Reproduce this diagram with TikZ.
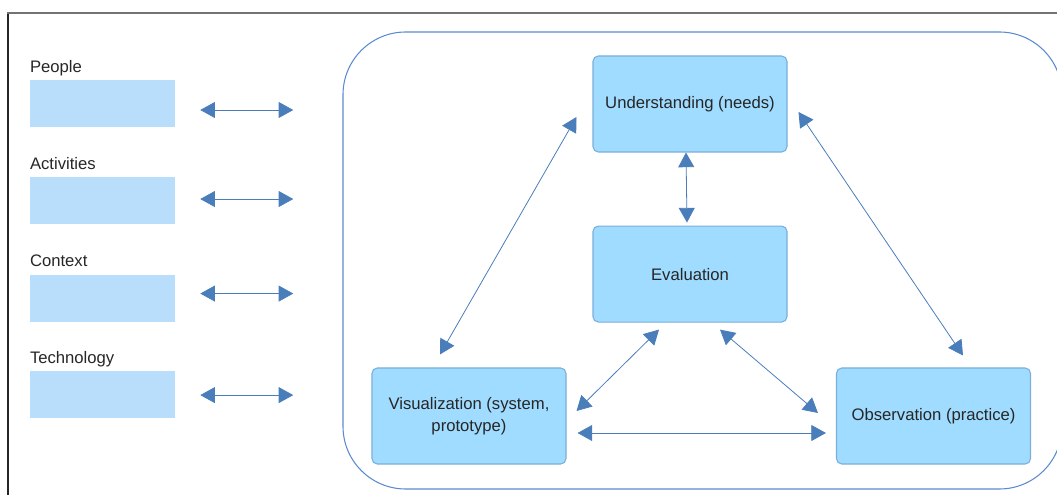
\documentclass[tikz,border=0pt]{standalone}
\usepackage{fontspec}
\setmainfont{Liberation Sans}
\usepackage{tikz}
\usetikzlibrary{positioning,arrows.meta}
\usepackage{xcolor}
\definecolor{boxfill}{HTML}{A0DCFF}
\definecolor{boxline}{HTML}{7AAEDC}
\definecolor{sidefill}{HTML}{B8DEFC}
\definecolor{arrowblue}{HTML}{4A7EBB}
\definecolor{ringblue}{HTML}{5B8BCF}

\begin{document}
\begin{tikzpicture}[%
    x=0.75pt,y=-0.75pt,
    bi/.style={{Triangle[length=11pt,width=12pt]}-{Triangle[length=11pt,width=12pt]},
      arrowblue,line width=0.6pt},
    stage/.style={%
      rectangle,rounded corners=4pt,draw=boxline,line width=0.8pt,fill=boxfill,
      minimum width=145.5pt,minimum height=72pt,align=center,text=black!85,
      font=\fontsize{12.5}{16.5}\selectfont},
    side/.style={rectangle,fill=sidefill,minimum width=108.75pt,minimum height=35.25pt,inner sep=0pt},
    lbl/.style={inner sep=0pt,text=black!85,font=\fontsize{12.5}{15}\selectfont}
  ]
    \useasboundingbox (0,0) rectangle (1057,495);
    \draw[black!85,line width=1.4pt] (8,495) -- (8,13);
    \draw[black!55,line width=1.4pt] (7.3,13) -- (1057,13);
    \draw[ringblue,line width=0.8pt,rounded corners=47pt] (343,32) rectangle (1062,489);

    % left column
    \node[side] (pep) at (102.5,104)                    {};
    \node[side] (act) [node distance=36.75pt, below=of pep] {};
    \node[side] (ctx) [node distance=37.5pt, below=of act]  {};
    \node[side] (tec) [node distance=36.75pt, below=of ctx] {};
    \node[lbl,anchor=base west] (tpep) at ([yshift=5.5pt]pep.north west) {People};
    \node[lbl,anchor=base west] (tact) at ([yshift=5.5pt]act.north west) {Activities};
    \node[lbl,anchor=base west] (tctx) at ([yshift=5.5pt]ctx.north west) {Context};
    \node[lbl,anchor=base west] (ttec) at ([yshift=5.5pt]tec.north west) {Technology};
    \draw[bi] ([shift={(25,6)}]pep.east) -- ++(93,0);
    \draw[bi] ([shift={(25,-1.5)}]act.east) -- ++(93,0);
    \draw[bi] ([shift={(25,-4.5)}]ctx.east) -- ++(93,0);
    \draw[bi] ([shift={(25,0.5)}]tec.east) -- ++(93,0);

    % cycle
    \node[stage] (und) at (690,104)                         {Understanding (needs)};
    \node[stage] (eva) [node distance=54.75pt, below=of und] {Evaluation};
    \node[stage] (vis) at (469,416)                         {Visualization (system,\\prototype)};
    \node[stage] (obs) at (933.5,416)                       {Observation (practice)};
    \draw[bi] ([shift={(-29,-13)}]vis.north) -- ([shift={(-16,13)}]und.west);
    \draw[bi] ([shift={(11,8)}]und.east)     -- ([shift={(29.5,-12)}]obs.north);
    \draw[bi] ([xshift=-3]und.south)         -- ([shift={(-3,-3)}]eva.north);
    \draw[bi] ([shift={(-31,7)}]eva.south)   -- ([shift={(10,-5)}]vis.east);
    \draw[bi] ([shift={(30,7)}]eva.south)    -- ([shift={(-18,-3)}]obs.west);
    \draw[bi] ([shift={(11,17)}]vis.east)    -- ([shift={(-10,17)}]obs.west);
  \end{tikzpicture}
\end{document}
